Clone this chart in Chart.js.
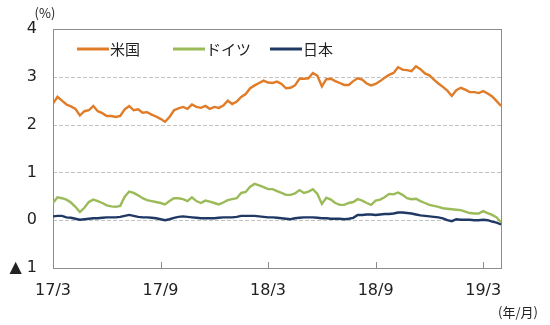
<!DOCTYPE html>
<html>
<head>
<meta charset="utf-8">
<script src="https://cdn.jsdelivr.net/npm/chart.js@4.4.1/dist/chart.umd.min.js"></script>
<style>
  html, body { margin:0; padding:0; background:#fff; }
  #wrap { width:550px; height:325px; }
</style>
</head>
<body>
<div id="wrap"><canvas id="c" width="550" height="325"></canvas></div>
<script>
// 10年国債利回り、週4本 (0.25か月刻み)、17/3 起点
const step = 0.25;
const seriesNames = ['米国', 'ドイツ', '日本'];
const seriesColors = ['#e07b28', '#9bbb59', '#1f3864'];

const usYield = [
  2.44,2.58,2.50,2.42,2.38,2.33,2.19,2.28,2.30,2.39,2.28,2.24,
  2.18,2.18,2.16,2.18,2.32,2.39,2.30,2.32,2.25,2.26,2.21,2.17,
  2.12,2.06,2.16,2.30,2.34,2.37,2.33,2.42,2.37,2.35,2.39,2.33,
  2.37,2.35,2.40,2.50,2.43,2.48,2.58,2.64,2.76,2.82,2.87,2.92,
  2.88,2.87,2.90,2.85,2.76,2.77,2.82,2.96,2.96,2.97,3.08,3.02,
  2.80,2.95,2.96,2.91,2.87,2.83,2.83,2.91,2.97,2.94,2.86,2.82,
  2.85,2.91,2.98,3.04,3.08,3.20,3.15,3.14,3.12,3.22,3.16,3.07,
  3.03,2.94,2.86,2.79,2.71,2.60,2.72,2.77,2.73,2.68,2.68,2.66,
  2.70,2.65,2.59,2.49,2.39
];
const deYield = [
  0.36,0.48,0.46,0.43,0.37,0.28,0.17,0.26,0.38,0.43,0.40,0.36,
  0.31,0.29,0.28,0.30,0.49,0.60,0.57,0.52,0.46,0.42,0.40,0.38,
  0.36,0.33,0.40,0.46,0.46,0.44,0.40,0.48,0.40,0.36,0.41,0.39,
  0.36,0.33,0.37,0.42,0.44,0.46,0.57,0.59,0.70,0.76,0.73,0.69,
  0.65,0.65,0.61,0.57,0.53,0.53,0.56,0.63,0.57,0.60,0.65,0.55,
  0.34,0.47,0.43,0.36,0.32,0.32,0.36,0.38,0.44,0.41,0.36,0.32,
  0.41,0.43,0.48,0.55,0.54,0.58,0.53,0.46,0.44,0.45,0.40,0.36,
  0.32,0.30,0.28,0.25,0.24,0.23,0.22,0.21,0.18,0.15,0.14,0.14,
  0.19,0.15,0.11,0.06,-0.05
];
const jpYield = [
  0.08,0.09,0.09,0.06,0.05,0.03,0.01,0.02,0.03,0.04,0.04,0.05,
  0.06,0.06,0.06,0.07,0.09,0.11,0.09,0.07,0.06,0.06,0.05,0.04,
  0.02,0.00,0.02,0.05,0.07,0.08,0.07,0.06,0.05,0.04,0.04,0.04,
  0.04,0.05,0.06,0.06,0.06,0.07,0.09,0.09,0.09,0.09,0.08,0.07,
  0.06,0.06,0.05,0.04,0.03,0.02,0.04,0.05,0.06,0.06,0.06,0.05,
  0.04,0.04,0.03,0.03,0.03,0.02,0.03,0.05,0.11,0.11,0.12,0.12,
  0.11,0.12,0.13,0.13,0.14,0.16,0.16,0.15,0.14,0.12,0.10,0.09,
  0.08,0.07,0.06,0.04,0.00,-0.02,0.02,0.01,0.01,0.01,0.00,0.00,
  0.01,0.00,-0.03,-0.05,-0.09
];

const tickMonths = [0, 6, 12, 18, 24];
const tickLabels = ['17/3', '17/9', '18/3', '18/9', '19/3'];
const yTicks = [-1, 0, 1, 2, 3, 4];
const yGrid = [0, 1, 2, 3];

const toPts = arr => arr.map((v, i) => ({ x: i * step, y: v }));

const numFont = "'DejaVu Sans', Verdana, sans-serif";
const jpFont = "'Noto Sans CJK JP', sans-serif";

// 点線の目盛線・枠線・x軸の内向き目盛・凡例・単位
const decor = {
  id: 'decor',
  beforeDatasetsDraw(chart) {
    const { ctx, chartArea: a, scales } = chart;
    ctx.save();
    ctx.strokeStyle = '#c4c4c4';
    ctx.lineWidth = 1;
    ctx.setLineDash([4, 2]);
    ctx.beginPath();
    yGrid.forEach(v => {
      const y = Math.round(scales.y.getPixelForValue(v)) + 0.5;
      ctx.moveTo(a.left, y);
      ctx.lineTo(a.right, y);
    });
    ctx.stroke();
    ctx.setLineDash([]);

    ctx.strokeStyle = '#8c8c8c';
    ctx.strokeRect(a.left + 0.5, a.top + 0.5, a.right - a.left - 1, a.bottom - a.top);
    ctx.beginPath();
    tickMonths.forEach(m => {
      const x = Math.round(scales.x.getPixelForValue(m)) + 0.5;
      ctx.moveTo(x, a.bottom);
      ctx.lineTo(x, a.bottom - 6);
    });
    ctx.stroke();
    ctx.restore();
  },
  afterDraw(chart) {
    const { ctx } = chart;
    ctx.save();
    ctx.fillStyle = '#222';
    ctx.textBaseline = 'middle';
    ctx.font = '13px ' + jpFont;
    ctx.textAlign = 'center';
    ctx.fillText('(%)', 45, 13);
    ctx.fillText('(年/月)', 518, 312);

    const legendX = [77, 173, 270];
    ctx.font = '15px ' + jpFont;
    ctx.textAlign = 'left';
    seriesNames.forEach((name, i) => {
      const x = legendX[i];
      ctx.strokeStyle = seriesColors[i];
      ctx.lineWidth = 3;
      ctx.beginPath();
      ctx.moveTo(x, 49);
      ctx.lineTo(x + 32, 49);
      ctx.stroke();
      ctx.fillText(name, x + 33, 49);
    });
    ctx.restore();
  }
};

new Chart(document.getElementById('c'), {
  type: 'line',
  data: {
    datasets: [usYield, deYield, jpYield].map((arr, i) => ({
      label: seriesNames[i],
      data: toPts(arr),
      borderColor: seriesColors[i],
      backgroundColor: seriesColors[i],
      borderWidth: 2.4,
      pointRadius: 0,
      tension: 0
    }))
  },
  options: {
    responsive: false,
    animation: false,
    layout: { padding: { left: 0, right: 48, top: 29, bottom: 0 } },
    plugins: { legend: { display: false }, tooltip: { enabled: false } },
    scales: {
      x: {
        type: 'linear',
        min: 0,
        max: 25.05,
        afterBuildTicks: s => { s.ticks = tickMonths.map(v => ({ value: v })); },
        afterFit: s => { s.height = 57; },
        grid: { display: false, drawTicks: false },
        border: { display: false },
        ticks: {
          padding: 13,
          maxRotation: 0,
          autoSkip: false,
          color: '#222',
          font: { family: numFont, size: 16 },
          callback: v => tickLabels[tickMonths.indexOf(v)]
        }
      },
      y: {
        min: -1,
        max: 4,
        afterBuildTicks: s => { s.ticks = yTicks.map(v => ({ value: v })); },
        afterFit: s => { s.width = 53; },
        grid: { display: false, drawTicks: false },
        border: { display: false },
        ticks: {
          padding: 16,
          color: '#222',
          font: { family: numFont, size: 16 },
          callback: v => v < 0 ? '▲ ' + Math.abs(v) : String(v)
        }
      }
    }
  },
  plugins: [decor]
});
</script>
</body>
</html>
